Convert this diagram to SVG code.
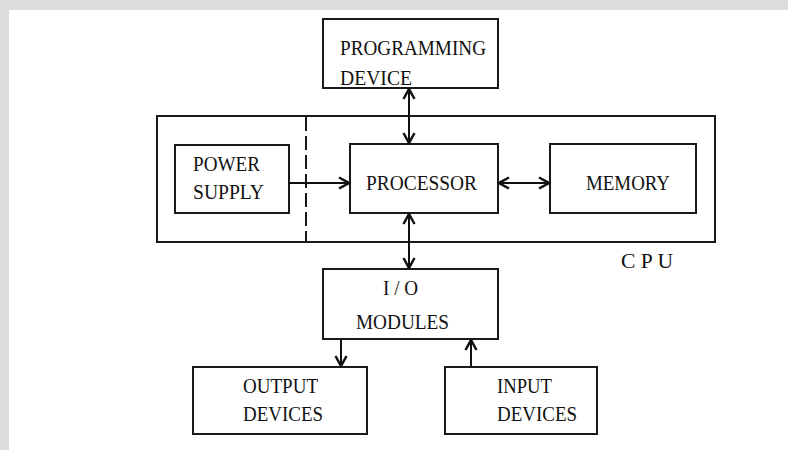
<svg xmlns="http://www.w3.org/2000/svg" width="788" height="450" viewBox="0 0 788 450">
<defs>
<style>
.box{fill:#fff;stroke:#1a1a1a;stroke-width:2}
.lbl{font-family:"Liberation Serif","Times New Roman",serif;font-size:22px;fill:#111}
.con{stroke:#111;stroke-width:2;fill:none}
</style>
<marker id="ah" viewBox="0 0 12 14" refX="11" refY="7" markerWidth="12" markerHeight="14" markerUnits="userSpaceOnUse" orient="auto-start-reverse">
<path d="M1,1.5 L11,7 L1,12.5" fill="none" stroke="#111" stroke-width="2.5"/>
</marker>
</defs>
<rect x="0" y="0" width="788" height="450" fill="#fff"/>
<rect x="0" y="0" width="788" height="10" fill="#dcdcdc"/>
<rect x="0" y="0" width="9" height="450" fill="#dcdcdc"/>

<g id="cpu">
<rect class="box" x="157" y="116" width="558" height="126"/>
<line x1="306" y1="117" x2="306" y2="241" stroke="#1a1a1a" stroke-width="2" stroke-dasharray="14 5"/>
<text class="lbl" x="621" y="268" textLength="52" lengthAdjust="spacingAndGlyphs">C P U</text>
</g>

<g id="programming-device">
<rect class="box" x="323" y="19" width="175" height="69"/>
<text class="lbl" x="340" y="55" textLength="146" lengthAdjust="spacingAndGlyphs">PROGRAMMING</text>
<text class="lbl" x="340" y="85" textLength="72" lengthAdjust="spacingAndGlyphs">DEVICE</text>
</g>

<g id="power-supply">
<rect class="box" x="175" y="145" width="114" height="68"/>
<text class="lbl" x="193" y="171" textLength="67" lengthAdjust="spacingAndGlyphs">POWER</text>
<text class="lbl" x="193" y="199" textLength="71" lengthAdjust="spacingAndGlyphs">SUPPLY</text>
</g>

<g id="processor">
<rect class="box" x="350" y="144" width="148" height="69"/>
<text class="lbl" x="366" y="190" textLength="111" lengthAdjust="spacingAndGlyphs">PROCESSOR</text>
</g>

<g id="memory">
<rect class="box" x="550" y="144" width="146" height="69"/>
<text class="lbl" x="586" y="190" textLength="84" lengthAdjust="spacingAndGlyphs">MEMORY</text>
</g>

<g id="io-modules">
<rect class="box" x="323" y="269" width="175" height="70"/>
<text class="lbl" x="383" y="295" textLength="35" lengthAdjust="spacingAndGlyphs">I / O</text>
<text class="lbl" x="356" y="329" textLength="93" lengthAdjust="spacingAndGlyphs">MODULES</text>
</g>

<g id="output-devices">
<rect class="box" x="193" y="367" width="174" height="67"/>
<text class="lbl" x="243" y="393" textLength="75" lengthAdjust="spacingAndGlyphs">OUTPUT</text>
<text class="lbl" x="243" y="421" textLength="80" lengthAdjust="spacingAndGlyphs">DEVICES</text>
</g>

<g id="input-devices">
<rect class="box" x="445" y="367" width="152" height="67"/>
<text class="lbl" x="497" y="393" textLength="55" lengthAdjust="spacingAndGlyphs">INPUT</text>
<text class="lbl" x="497" y="421" textLength="80" lengthAdjust="spacingAndGlyphs">DEVICES</text>
</g>

<g id="connectors">
<line class="con" x1="409" y1="89" x2="409" y2="143" marker-start="url(#ah)" marker-end="url(#ah)"/>
<line class="con" x1="289" y1="183" x2="349" y2="183" marker-end="url(#ah)"/>
<line class="con" x1="499" y1="183" x2="549" y2="183" marker-start="url(#ah)" marker-end="url(#ah)"/>
<line class="con" x1="409" y1="214" x2="409" y2="268" marker-start="url(#ah)" marker-end="url(#ah)"/>
<line class="con" x1="341" y1="340" x2="341" y2="366" marker-end="url(#ah)"/>
<line class="con" x1="471" y1="366" x2="471" y2="340" marker-end="url(#ah)"/>
</g>
</svg>
